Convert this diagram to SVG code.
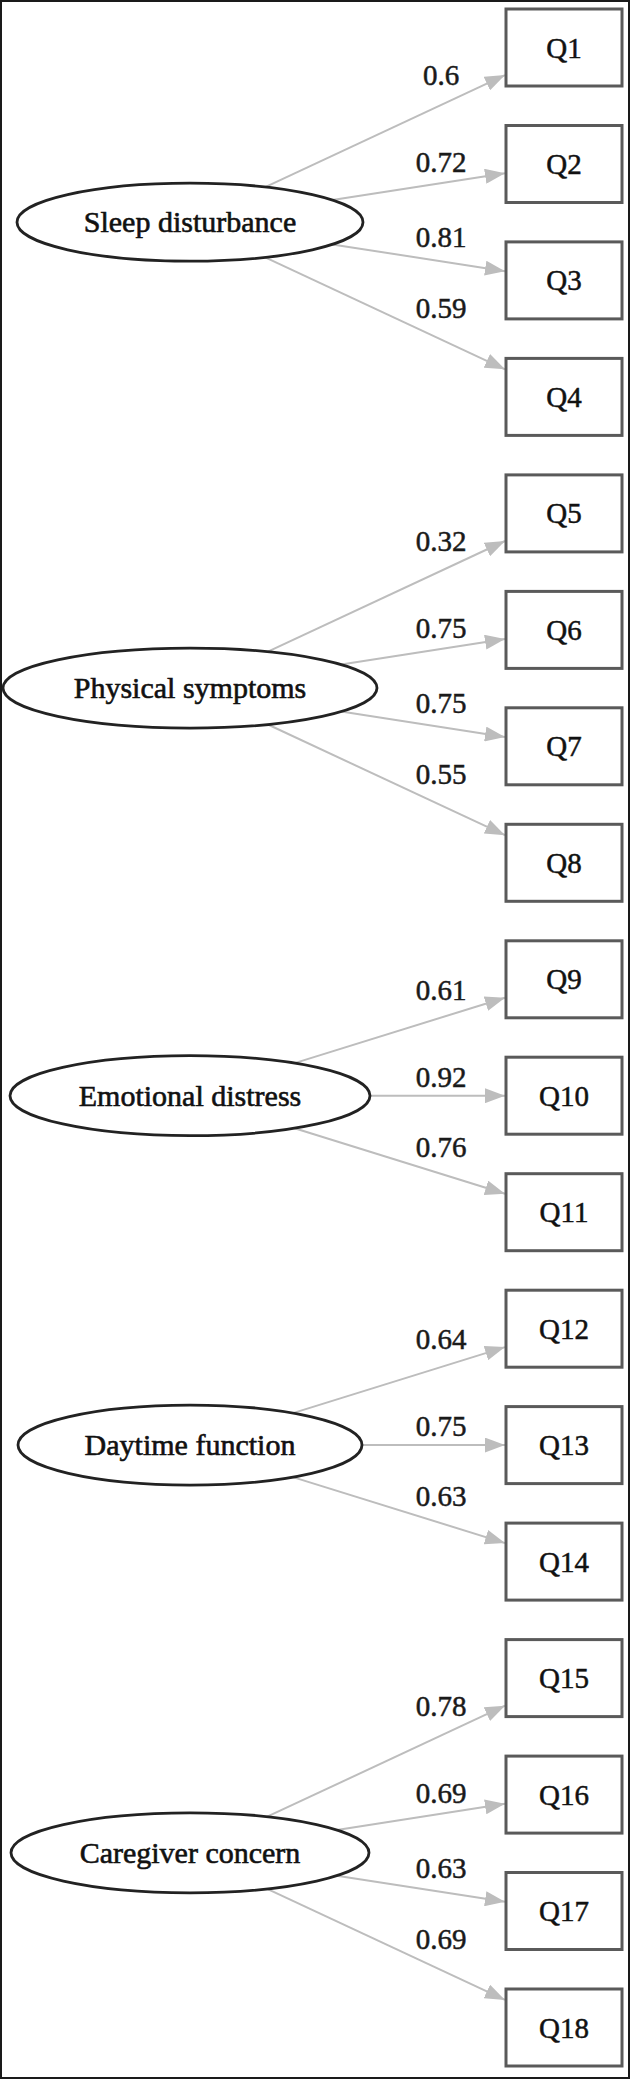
<svg xmlns="http://www.w3.org/2000/svg" width="630" height="2079" viewBox="0 0 630 2079">
<defs>
<style>
.frame{fill:#fff;stroke:#1a1a1a;stroke-width:2}
.lat ellipse{fill:#fff;stroke:#222;stroke-width:2.8}
.lat text{font-family:"Liberation Serif","Times New Roman",serif;font-size:30px;fill:#111;stroke:#111;stroke-width:0.6;text-anchor:middle}
.obs rect{fill:#fff;stroke:#5a5a5a;stroke-width:3}
.obs text{font-family:"Liberation Serif","Times New Roman",serif;font-size:29px;fill:#111;stroke:#111;stroke-width:0.5;text-anchor:middle}
.edges line{stroke:#bdbdbd;stroke-width:2;marker-end:url(#arr)}
.edges text{font-family:"Liberation Serif","Times New Roman",serif;font-size:29px;fill:#1a1a1a;stroke:#1a1a1a;stroke-width:0.5;text-anchor:middle}
</style>
<marker id="arr" markerUnits="userSpaceOnUse" markerWidth="20" markerHeight="15" refX="20" refY="7.5" orient="auto">
<path d="M0,0 L20,7.5 L0,15 Z" fill="#bdbdbd"/>
</marker>
</defs>
<rect class="frame" x="1" y="1" width="628" height="2077"/>

<g class="edges" id="connectors">
<line x1="265.2" y1="187.1" x2="505" y2="75.1"/>
<line x1="332.4" y1="200.0" x2="505" y2="173.2"/>
<line x1="332.4" y1="244.4" x2="505" y2="271.2"/>
<line x1="265.2" y1="257.3" x2="505" y2="369.3"/>
<text x="441" y="85.2">0.6</text>
<text x="441" y="172.2">0.72</text>
<text x="441" y="247.2">0.81</text>
<text x="441" y="318.2">0.59</text>

<line x1="267.9" y1="651.7" x2="505" y2="541.0"/>
<line x1="341.2" y1="664.6" x2="505" y2="639.1"/>
<line x1="341.2" y1="711.6" x2="505" y2="737.1"/>
<line x1="267.9" y1="724.5" x2="505" y2="835.2"/>
<text x="441" y="551.1">0.32</text>
<text x="441" y="638.1">0.75</text>
<text x="441" y="713.1">0.75</text>
<text x="441" y="784.1">0.55</text>

<line x1="294.6" y1="1063.1" x2="505" y2="997.7"/>
<line x1="370" y1="1095.7" x2="505" y2="1095.7"/>
<line x1="294.6" y1="1128.3" x2="505" y2="1193.7"/>
<text x="441" y="999.7">0.61</text>
<text x="441" y="1086.7">0.92</text>
<text x="441" y="1156.7">0.76</text>

<line x1="292.9" y1="1413.1" x2="505" y2="1347.1"/>
<line x1="362" y1="1445.1" x2="505" y2="1445.1"/>
<line x1="292.9" y1="1477.1" x2="505" y2="1543.1"/>
<text x="441" y="1349.1">0.64</text>
<text x="441" y="1436.1">0.75</text>
<text x="441" y="1506.1">0.63</text>

<line x1="267.2" y1="1816.7" x2="505" y2="1705.7"/>
<line x1="336.9" y1="1829.9" x2="505" y2="1803.8"/>
<line x1="336.9" y1="1875.7" x2="505" y2="1901.8"/>
<line x1="267.2" y1="1888.9" x2="505" y2="1999.9"/>
<text x="441" y="1715.8">0.78</text>
<text x="441" y="1802.8">0.69</text>
<text x="441" y="1877.8">0.63</text>
<text x="441" y="1948.8">0.69</text>
</g>

<g class="lat" id="sleep"><ellipse cx="190" cy="222.2" rx="173" ry="39"/><text x="190" y="232.2">Sleep disturbance</text></g>
<g class="lat" id="physical"><ellipse cx="190" cy="688.1" rx="187" ry="40"/><text x="190" y="698.1">Physical symptoms</text></g>
<g class="lat" id="emotional"><ellipse cx="190" cy="1095.7" rx="180" ry="40"/><text x="190" y="1105.7">Emotional distress</text></g>
<g class="lat" id="daytime"><ellipse cx="190" cy="1445.1" rx="172" ry="40"/><text x="190" y="1455.1">Daytime function</text></g>
<g class="lat" id="caregiver"><ellipse cx="190" cy="1852.8" rx="179" ry="40"/><text x="190" y="1862.8">Caregiver concern</text></g>

<g class="obs" id="Q1"><rect x="506" y="9.0" width="116" height="77"/><text x="564" y="57.5">Q1</text></g>
<g class="obs" id="Q2"><rect x="506" y="125.5" width="116" height="77"/><text x="564" y="174.0">Q2</text></g>
<g class="obs" id="Q3"><rect x="506" y="241.9" width="116" height="77"/><text x="564" y="290.4">Q3</text></g>
<g class="obs" id="Q4"><rect x="506" y="358.4" width="116" height="77"/><text x="564" y="406.9">Q4</text></g>
<g class="obs" id="Q5"><rect x="506" y="474.9" width="116" height="77"/><text x="564" y="523.4">Q5</text></g>
<g class="obs" id="Q6"><rect x="506" y="591.4" width="116" height="77"/><text x="564" y="639.9">Q6</text></g>
<g class="obs" id="Q7"><rect x="506" y="707.8" width="116" height="77"/><text x="564" y="756.3">Q7</text></g>
<g class="obs" id="Q8"><rect x="506" y="824.3" width="116" height="77"/><text x="564" y="872.8">Q8</text></g>
<g class="obs" id="Q9"><rect x="506" y="940.8" width="116" height="77"/><text x="564" y="989.3">Q9</text></g>
<g class="obs" id="Q10"><rect x="506" y="1057.2" width="116" height="77"/><text x="564" y="1105.7">Q10</text></g>
<g class="obs" id="Q11"><rect x="506" y="1173.7" width="116" height="77"/><text x="564" y="1222.2">Q11</text></g>
<g class="obs" id="Q12"><rect x="506" y="1290.2" width="116" height="77"/><text x="564" y="1338.7">Q12</text></g>
<g class="obs" id="Q13"><rect x="506" y="1406.6" width="116" height="77"/><text x="564" y="1455.1">Q13</text></g>
<g class="obs" id="Q14"><rect x="506" y="1523.1" width="116" height="77"/><text x="564" y="1571.6">Q14</text></g>
<g class="obs" id="Q15"><rect x="506" y="1639.6" width="116" height="77"/><text x="564" y="1688.1">Q15</text></g>
<g class="obs" id="Q16"><rect x="506" y="1756.1" width="116" height="77"/><text x="564" y="1804.6">Q16</text></g>
<g class="obs" id="Q17"><rect x="506" y="1872.5" width="116" height="77"/><text x="564" y="1921.0">Q17</text></g>
<g class="obs" id="Q18"><rect x="506" y="1989.0" width="116" height="77"/><text x="564" y="2037.5">Q18</text></g>
</svg>
